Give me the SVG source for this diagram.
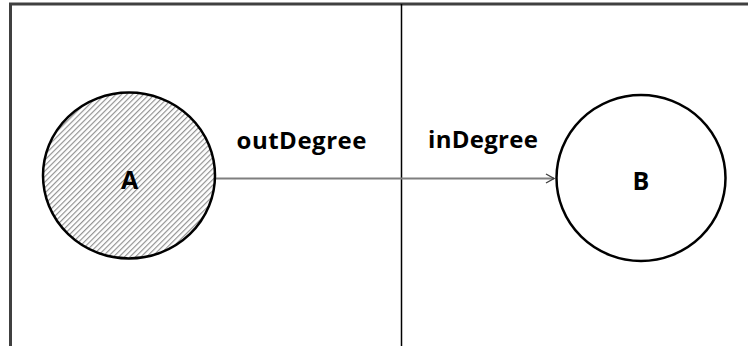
<svg xmlns="http://www.w3.org/2000/svg" width="748" height="346" viewBox="0 0 748 346">
  <style>
    .frame { stroke: #404040; stroke-width: 3; fill: none; }
    .divider { stroke: #000; stroke-width: 1.5; fill: none; }
    .node { stroke: #000; stroke-width: 2.5; }
    .label { font-family: "Open Sans", "Liberation Sans", sans-serif; font-weight: bold; fill: #000; }
    .edge { stroke: #7f7f7f; stroke-width: 2; fill: none; }
  </style>
  <defs>
    <pattern id="hatch" patternUnits="userSpaceOnUse" width="3.9" height="3.9" patternTransform="rotate(45)">
      <rect width="3.9" height="3.9" fill="#fff"/>
      <line x1="0.6" y1="0" x2="0.6" y2="3.9" stroke="#8a8a8a" stroke-width="1.1"/>
    </pattern>
    <marker id="arrow" markerWidth="12" markerHeight="12" refX="10" refY="6" orient="auto" markerUnits="userSpaceOnUse">
      <path d="M2,1.5 L10,6 L2,10.5" fill="none" stroke="#404040" stroke-width="1.4"/>
    </marker>
  </defs>
  <rect width="748" height="346" fill="#fff"/>
  <g id="frame">
    <path class="frame" d="M10.5,346 V4 H748"/>
    <line class="divider" x1="401.5" y1="4" x2="401.5" y2="346"/>
  </g>
  <g id="connectors">
    <line class="edge" x1="215" y1="178.5" x2="554" y2="178.5" marker-end="url(#arrow)"/>
    <text class="label" x="236.5" y="148.5" font-size="24" textLength="130" lengthAdjust="spacing">outDegree</text>
    <text class="label" x="428" y="147.5" font-size="24" textLength="110" lengthAdjust="spacing">inDegree</text>
  </g>
  <g id="nodeA">
    <ellipse class="node" cx="129" cy="175.5" rx="86" ry="83" fill="url(#hatch)"/>
    <text class="label" x="129.5" y="189" font-size="25" text-anchor="middle">A</text>
  </g>
  <g id="nodeB">
    <ellipse class="node" cx="641" cy="178" rx="84.5" ry="83" fill="#fff"/>
    <text class="label" x="641" y="190" font-size="25" text-anchor="middle">B</text>
  </g>
</svg>
